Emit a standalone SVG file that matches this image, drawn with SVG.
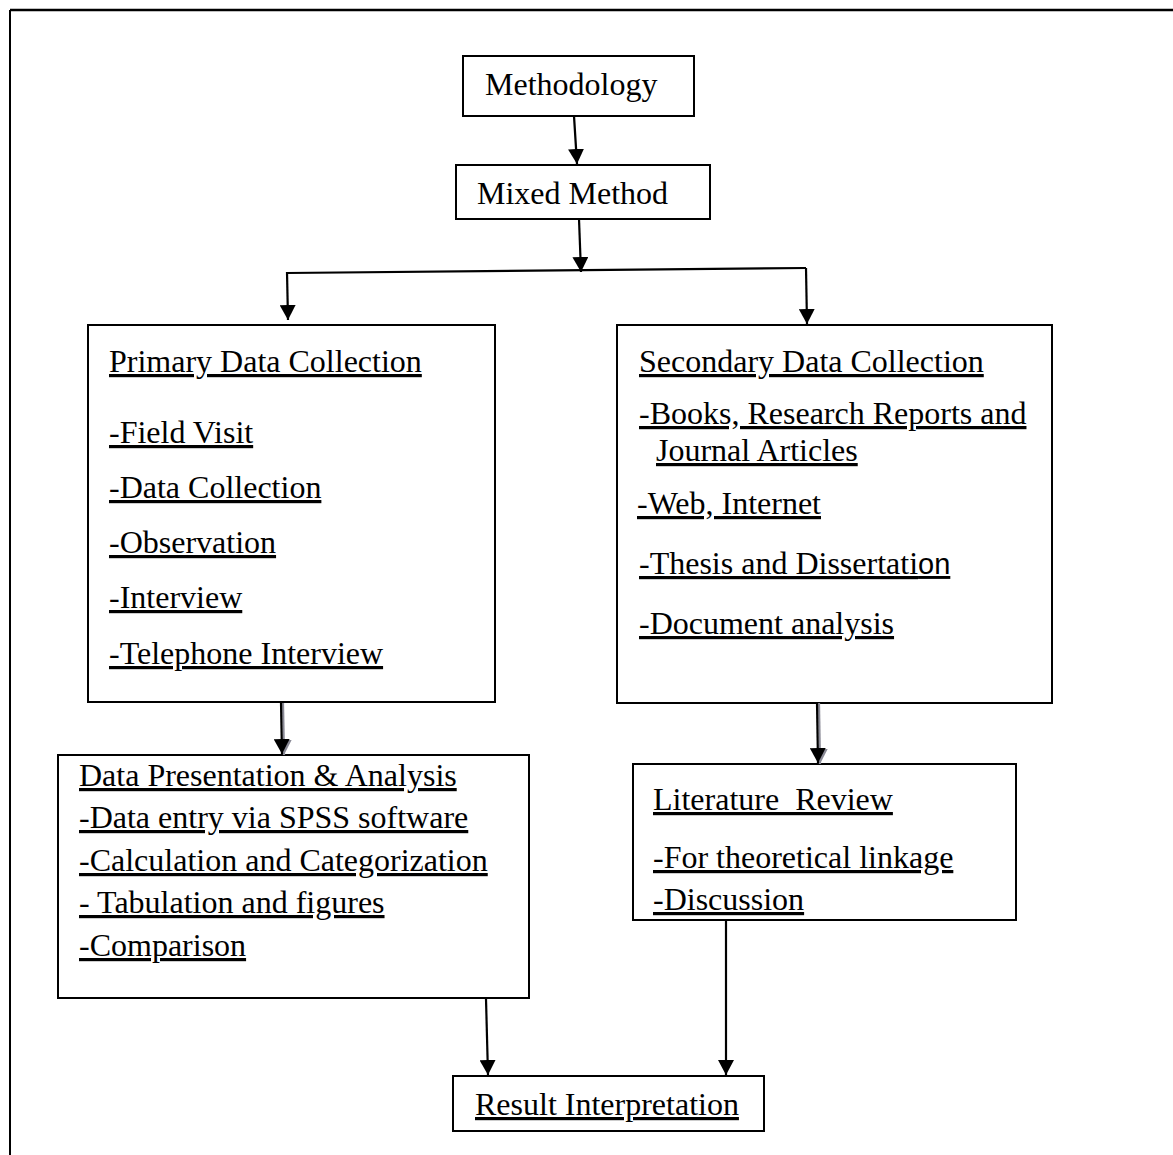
<svg xmlns="http://www.w3.org/2000/svg" width="1173" height="1155" viewBox="0 0 1173 1155">
<defs>
<marker id="ah" markerUnits="userSpaceOnUse" markerWidth="15" markerHeight="16" refX="15" refY="8" orient="auto">
<path d="M0,0 L15,8 L0,16 z" fill="#000"/>
</marker>
<marker id="ahs" markerUnits="userSpaceOnUse" markerWidth="15" markerHeight="16" refX="15" refY="8" orient="auto">
<path d="M0,0 L15,8 L0,16 z" fill="#8a8a96"/>
</marker>
<style>
.box{fill:#fff;stroke:#000;stroke-width:2}
.t{font-family:"Liberation Serif","Times New Roman",serif;font-size:32px;fill:#000}
.u{text-decoration:underline;text-decoration-skip-ink:none;text-decoration-thickness:2px}
.c{fill:none;stroke:#000;stroke-width:2.2}
.cs{fill:none;stroke:#8a8a96;stroke-width:2.2}
</style>
</defs>
<rect width="1173" height="1155" fill="#fff"/>
<g id="frame">
<line x1="10" y1="10" x2="1173" y2="10" stroke="#000" stroke-width="2.5"/>
<line x1="10" y1="10" x2="10" y2="1155" stroke="#000" stroke-width="2"/>
</g>
<g id="methodology">
<rect class="box" x="463" y="56" width="231" height="60"/>
<text class="t" x="485" y="95">Methodology</text>
</g>
<g id="mixed-method">
<rect class="box" x="456" y="165" width="254" height="54"/>
<text class="t" x="477" y="204">Mixed Method</text>
</g>
<g id="primary">
<rect class="box" x="88" y="325" width="407" height="377"/>
<text class="t u" x="109" y="372">Primary Data Collection</text>
<text class="t u" x="109" y="443">-Field Visit</text>
<text class="t u" x="109" y="498">-Data Collection</text>
<text class="t u" x="109" y="553">-Observation</text>
<text class="t u" x="109" y="608">-Interview</text>
<text class="t u" x="109" y="664">-Telephone Interview</text>
</g>
<g id="secondary">
<rect class="box" x="617" y="325" width="435" height="378"/>
<text class="t u" x="639" y="372">Secondary Data Collection</text>
<text class="t u" x="639" y="424">-Books, Research Reports and</text>
<text class="t u" x="656" y="461">Journal Articles</text>
<text class="t u" x="637" y="514">-Web, Internet</text>
<text class="t u" x="639" y="574">-Thesis and Dissertati<tspan font-family="Liberation Sans, Arial, sans-serif" font-size="29">on</tspan></text>
<text class="t u" x="639" y="634">-Document analysis</text>
</g>
<g id="data-presentation">
<rect class="box" x="58" y="755" width="471" height="243"/>
<text class="t u" x="79" y="786">Data Presentation &amp; Analysis</text>
<text class="t u" x="79" y="828">-Data entry via SPSS software</text>
<text class="t u" x="79" y="871">-Calculation and Categorization</text>
<text class="t u" x="79" y="913" style="white-space:pre">- Tabulation and figures</text>
<text class="t u" x="79" y="956">-Comparison</text>
</g>
<g id="literature-review">
<rect class="box" x="633" y="764" width="383" height="156"/>
<text class="t u" x="653" y="810" style="white-space:pre">Literature  Review</text>
<text class="t u" x="653" y="868">-For theoretical linkage</text>
<text class="t u" x="653" y="910">-Discussion</text>
</g>
<g id="result">
<rect class="box" x="453" y="1076" width="311" height="55"/>
<text class="t u" x="475" y="1115">Result Interpretation</text>
</g>
<g id="connectors">
<line class="c" x1="574" y1="116" x2="577" y2="164" marker-end="url(#ah)"/>
<line class="c" x1="579" y1="219" x2="581" y2="272" marker-end="url(#ah)"/>
<line class="c" x1="287" y1="273" x2="806" y2="268"/>
<line class="c" x1="287" y1="272" x2="288" y2="320" marker-end="url(#ah)"/>
<line class="c" x1="806" y1="268" x2="807" y2="324" marker-end="url(#ah)"/>
<line class="cs" x1="283" y1="703" x2="284" y2="755" marker-end="url(#ahs)"/>
<line class="c" x1="281" y1="703" x2="282" y2="754" marker-end="url(#ah)"/>
<line class="cs" x1="819" y1="703" x2="820" y2="764" marker-end="url(#ahs)"/>
<line class="c" x1="817" y1="703" x2="818" y2="763" marker-end="url(#ah)"/>
<line class="c" x1="486" y1="999" x2="488" y2="1075" marker-end="url(#ah)"/>
<line class="c" x1="726" y1="920" x2="726" y2="1075" marker-end="url(#ah)"/>
</g>
</svg>
